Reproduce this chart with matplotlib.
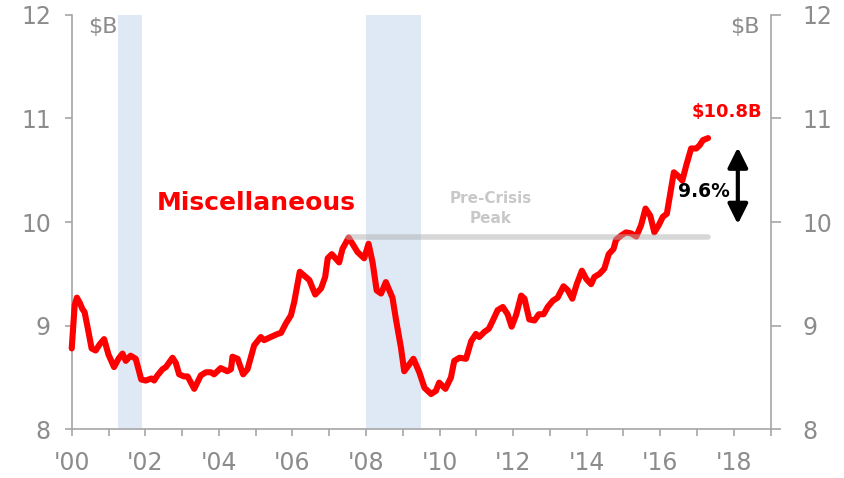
import matplotlib
matplotlib.use("Agg")
import matplotlib.pyplot as plt
import numpy as np

plt.rcParams['font.family'] = ['DejaVu Sans']

# ---- data ----
dates = [2000.00, 2000.08, 2000.14, 2000.22, 2000.29, 2000.35, 2000.45, 2000.54, 2000.65, 2000.76,
         2000.88, 2001.00, 2001.15, 2001.27, 2001.38, 2001.47, 2001.60, 2001.74, 2001.89, 2002.01,
         2002.17, 2002.24, 2002.33, 2002.47, 2002.56, 2002.74, 2002.83, 2002.92, 2003.05, 2003.15,
         2003.33, 2003.51, 2003.65, 2003.78, 2003.87, 2004.05, 2004.23, 2004.33, 2004.37, 2004.51,
         2004.66, 2004.78, 2004.96, 2005.14, 2005.23, 2005.41, 2005.60, 2005.69, 2005.82, 2005.96,
         2006.05, 2006.20, 2006.46, 2006.62, 2006.78, 2006.89, 2006.96, 2007.07, 2007.27, 2007.36,
         2007.53, 2007.77, 2007.95, 2008.07, 2008.18, 2008.29, 2008.41, 2008.54, 2008.72, 2008.82,
         2008.95, 2009.04, 2009.29, 2009.45, 2009.59, 2009.77, 2009.90, 2009.99, 2010.16, 2010.31,
         2010.40, 2010.54, 2010.72, 2010.86, 2010.99, 2011.08, 2011.22, 2011.34, 2011.45, 2011.58,
         2011.72, 2011.85, 2011.96, 2012.08, 2012.22, 2012.31, 2012.44, 2012.58, 2012.70, 2012.83,
         2012.94, 2013.08, 2013.21, 2013.37, 2013.49, 2013.61, 2013.73, 2013.87, 2013.99, 2014.12,
         2014.21, 2014.35, 2014.48, 2014.60, 2014.73, 2014.80, 2014.94, 2015.07, 2015.21, 2015.35,
         2015.48, 2015.60, 2015.73, 2015.84, 2015.96, 2016.07, 2016.18, 2016.27, 2016.37, 2016.50,
         2016.60, 2016.71, 2016.84, 2016.98, 2017.07, 2017.16, 2017.30]
values = [8.78, 9.20, 9.27, 9.22, 9.16, 9.13, 8.95, 8.78, 8.76, 8.82,
          8.87, 8.72, 8.60, 8.68, 8.73, 8.66, 8.71, 8.68, 8.48, 8.47,
          8.49, 8.47, 8.52, 8.58, 8.60, 8.69, 8.64, 8.53, 8.51, 8.51,
          8.39, 8.52, 8.55, 8.55, 8.53, 8.59, 8.56, 8.58, 8.70, 8.68,
          8.53, 8.58, 8.81, 8.89, 8.86, 8.89, 8.92, 8.93, 9.02, 9.10,
          9.23, 9.52, 9.44, 9.30, 9.36, 9.47, 9.65, 9.69, 9.61, 9.74,
          9.85, 9.71, 9.65, 9.79, 9.61, 9.34, 9.31, 9.42, 9.27, 9.05,
          8.79, 8.56, 8.68, 8.55, 8.40, 8.34, 8.37, 8.45, 8.39, 8.50,
          8.66, 8.69, 8.68, 8.85, 8.92, 8.89, 8.94, 8.97, 9.05, 9.15,
          9.18, 9.11, 8.99, 9.10, 9.29, 9.26, 9.06, 9.05, 9.11, 9.11,
          9.18, 9.24, 9.27, 9.38, 9.34, 9.26, 9.40, 9.53, 9.45, 9.40,
          9.47, 9.50, 9.55, 9.69, 9.74, 9.83, 9.87, 9.90, 9.89, 9.86,
          9.97, 10.13, 10.06, 9.90, 9.97, 10.05, 10.08, 10.27, 10.48, 10.44,
          10.40, 10.55, 10.71, 10.71, 10.74, 10.79, 10.81]

recessions = [(2001.25, 2001.92), (2008.0, 2009.5)]
peak_value = 9.855
peak_span = (2007.5, 2017.3)
tick_years = list(range(2000, 2020))
tick_labels = ["'%02d" % (y % 100) if y % 2 == 0 else "" for y in tick_years]
y_ticks = [8, 9, 10, 11, 12]
last_label = "$10.8B"
change_label = "9.6%"
series_label = "Miscellaneous"

GRAY = '#8c8c8c'
SPINE = '#a6a6a6'

fig = plt.figure(figsize=(8.44, 4.78), dpi=100)
ax = fig.add_axes([0.085, 0.102, 0.828, 0.867])

for a, b in recessions:
    ax.axvspan(a, b, color='#dfe9f6', lw=0, zorder=0)

ax.plot(dates, values, color='#ff0000', lw=4.4, solid_joinstyle='round',
        solid_capstyle='round', zorder=3, clip_on=False)
ax.plot(peak_span, [peak_value, peak_value], color='#b0b0b0', alpha=0.5,
        lw=4, solid_capstyle='round', zorder=4)

ax.set_xlim(2000, 2019)
ax.set_ylim(8, 12)
ax.set_xticks(tick_years)
ax.set_xticklabels(tick_labels)
ax.set_yticks(y_ticks)

for s in ['top', 'right']:
    ax.spines[s].set_visible(False)
for s in ['left', 'bottom']:
    ax.spines[s].set_color(SPINE)
    ax.spines[s].set_linewidth(1.2)
ax.tick_params(axis='x', colors=SPINE, labelcolor=GRAY, labelsize=17, length=5, width=1.2, pad=11)
ax.tick_params(axis='y', colors=SPINE, labelcolor=GRAY, labelsize=17, length=5, width=1.2, pad=10)

ax2 = ax.twinx()
ax2.set_ylim(8, 12)
ax2.set_yticks(y_ticks)
for s in ['top', 'left', 'bottom']:
    ax2.spines[s].set_visible(False)
ax2.spines['right'].set_color(SPINE)
ax2.spines['right'].set_linewidth(1.2)
ax2.tick_params(axis='y', colors=SPINE, labelcolor=GRAY, labelsize=17, length=7, width=1.2, pad=16)

ax.text(0.023, 11.88, "$B", transform=ax.get_yaxis_transform(), color=GRAY,
        fontsize=16, ha='left', va='center')
ax.text(0.985, 11.88, "$B", transform=ax.get_yaxis_transform(), color=GRAY,
        fontsize=16, ha='right', va='center')

ax.text(2005.01, 10.18, series_label, color='#ff0000', fontsize=18, fontweight='bold',
        ha='center', va='center', zorder=5)
ax.text(2011.38, 10.13, "Pre-Crisis\nPeak", color='#c8c8c8', fontsize=11, fontweight='bold',
        ha='center', va='center', linespacing=1.35, zorder=5)
ax.text(2017.82, 11.06, last_label, color='#ff0000', fontsize=13, fontweight='bold',
        ha='center', va='center', zorder=5)
ax.text(2017.2, 10.29, change_label, color='black', fontsize=13.5, fontweight='bold',
        ha='center', va='center', zorder=5)
ax.annotate('', xy=(2018.11, 10.72), xytext=(2018.11, 9.98),
            arrowprops=dict(arrowstyle='<|-|>,head_length=1.2,head_width=0.6', color='black',
                            lw=3, shrinkA=0, shrinkB=0), zorder=5)

fig.savefig('out.png', dpi=100)
